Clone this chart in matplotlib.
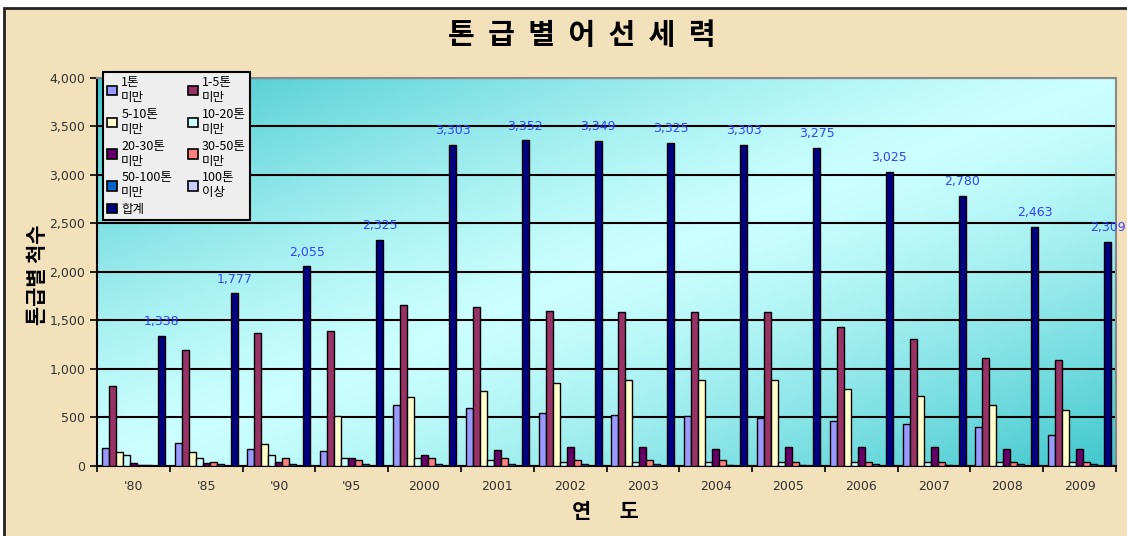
import numpy as np
import matplotlib
matplotlib.use("Agg")
import matplotlib.pyplot as plt
from matplotlib.patches import Rectangle
from matplotlib.ticker import FuncFormatter, MultipleLocator

plt.rcParams['font.family'] = ['Noto Sans CJK KR', 'DejaVu Sans']

# 데이터
years = ["'80", "'85", "'90", "'95", "2000", "2001", "2002", "2003",
         "2004", "2005", "2006", "2007", "2008", "2009"]
series_names = ["1톤\n미만", "1-5톤\n미만", "5-10톤\n미만", "10-20톤\n미만",
                "20-30톤\n미만", "30-50톤\n미만", "50-100톤\n미만", "100톤\n이상", "합계"]
ton_lt1 = [190, 237, 175, 158, 629, 598, 546, 529, 515, 498, 464, 433, 402, 320]
ton_1_5 = [820, 1196, 1374, 1392, 1653, 1635, 1601, 1584, 1584, 1584, 1436, 1309, 1113, 1096]
ton_5_10 = [140, 140, 223, 515, 711, 776, 856, 890, 890, 890, 794, 725, 629, 580]
ton_10_20 = [113, 78, 113, 78, 78, 62, 45, 44, 44, 44, 44, 44, 44, 44]
ton_20_30 = [30, 31, 44, 78, 113, 161, 192, 192, 175, 192, 192, 192, 175, 175]
ton_30_50 = [15, 44, 78, 58, 78, 78, 62, 62, 62, 44, 44, 44, 44, 44]
ton_50_100 = [8, 16, 16, 16, 16, 16, 16, 16, 8, 8, 16, 8, 16, 16]
ton_100_up = [2, 2, 2, 2, 2, 2, 2, 2, 2, 2, 2, 2, 2, 2]
total = [1338, 1777, 2055, 2325, 3303, 3352, 3349, 3325, 3303, 3275, 3025, 2780, 2463, 2309]

series = [ton_lt1, ton_1_5, ton_5_10, ton_10_20, ton_20_30,
          ton_30_50, ton_50_100, ton_100_up, total]
colors = ["#9999ff", "#993366", "#ffffcc", "#ccffff", "#660066",
          "#ff8080", "#0066cc", "#ccccff", "#000080"]

fig = plt.figure(figsize=(11.27, 5.36), dpi=100)
fig.patch.set_facecolor("white")

# 양피지 배경 (오른쪽/아래는 잘린 모양)
bg = Rectangle((4 / 1127, -0.05), 1.1, (536 - 8) / 536 + 0.05, transform=fig.transFigure,
               facecolor="#f3e1bb", edgecolor="#222222", linewidth=2, zorder=-10)
fig.patches.append(bg)

ax = fig.add_axes([97 / 1127, (536 - 466) / 536, (1116 - 97) / 1127, (466 - 77.5) / 536])

# 그라데이션 배경 (대각선, 가운데 밝게)
gy, gx = np.mgrid[0:1:200j, 0:1:400j]
t = np.abs((gx + gy) / 2 - 0.5) * 2
dark = np.array([0.25, 0.78, 0.80])
light = np.array([0.80, 1.0, 1.0])
img = light[None, None, :] * (1 - t[..., None] ** 1.3) + dark[None, None, :] * t[..., None] ** 1.3
ax.imshow(img, extent=[0, 1, 0, 1], transform=ax.transAxes, aspect="auto", zorder=0)

n = len(series)
width = 1 / 10.4
start = (1 - n * width) / 2
x = np.arange(len(years))
handles = []
for i, (vals, c, name) in enumerate(zip(series, colors, series_names)):
    b = ax.bar(x + start + i * width, vals, width=width, align="edge",
               color=c, edgecolor="black", linewidth=1.0, label=name, zorder=3)
    handles.append(b)

for xi, v in zip(x, total):
    ax.text(xi + start + (n - 0.5) * width, v + 80, f"{v:,}", ha="center", va="bottom",
            fontsize=9, color="#3344ff", family="DejaVu Sans", zorder=5)

ax.set_xlim(0, len(years))
ax.set_ylim(0, 4000)
ax.yaxis.set_major_locator(MultipleLocator(500))
ax.yaxis.set_major_formatter(FuncFormatter(lambda v, p: f"{int(v):,}"))
ax.grid(axis="y", color="black", linewidth=1.5, zorder=1)
ax.set_axisbelow(True)

ax.set_xticks(np.arange(len(years) + 1))
ax.set_xticklabels([])
ax.set_xticks(x + 0.5, minor=True)
ax.set_xticklabels(years, minor=True, fontsize=9, color="#333333", family="DejaVu Sans")
ax.tick_params(axis="x", which="minor", length=0, pad=10)
ax.tick_params(axis="x", which="major", length=4, width=1.2, direction="out")
ax.tick_params(axis="y", length=5, width=1.2, direction="out", labelsize=9,
               labelcolor="#333333")
for lbl in ax.get_yticklabels():
    lbl.set_family("DejaVu Sans")

for s in ["left", "bottom"]:
    ax.spines[s].set_color("black")
    ax.spines[s].set_linewidth(1.5)
for s in ["top", "right"]:
    ax.spines[s].set_color("#888888")
    ax.spines[s].set_linewidth(1.5)

fig.text(582 / 1127, 1 - 35 / 536, "톤  급  별  어  선  세  력", ha="center", va="center",
         fontsize=21, fontweight="bold")
fig.text(605 / 1127, 1 - 511 / 536, "연      도", ha="center", va="center",
         fontsize=15, fontweight="bold")
fig.text(37 / 1127, 1 - 275 / 536, "톤급별 척수", ha="center", va="center",
         rotation=90, fontsize=15, fontweight="bold")

# 범례: 행 순서로 채우기
order = [0, 2, 4, 6, 8, 1, 3, 5, 7]
leg = ax.legend([handles[k] for k in order], [series_names[k] for k in order],
                ncol=2, loc="upper left", bbox_to_anchor=(0.006, 1.015), borderaxespad=0,
                fontsize=9, frameon=True, fancybox=False, edgecolor="black",
                handlelength=0.8, handleheight=0.8, handletextpad=0.3,
                columnspacing=1.3, labelspacing=0.3, borderpad=0.35)
leg.get_frame().set_facecolor("#eeeeee")
leg.get_frame().set_alpha(1)
leg.get_frame().set_linewidth(1.5)
for h in leg.legend_handles:
    h.set_linewidth(1.2)
leg.set_zorder(10)

fig.savefig("out.png", dpi=100)
